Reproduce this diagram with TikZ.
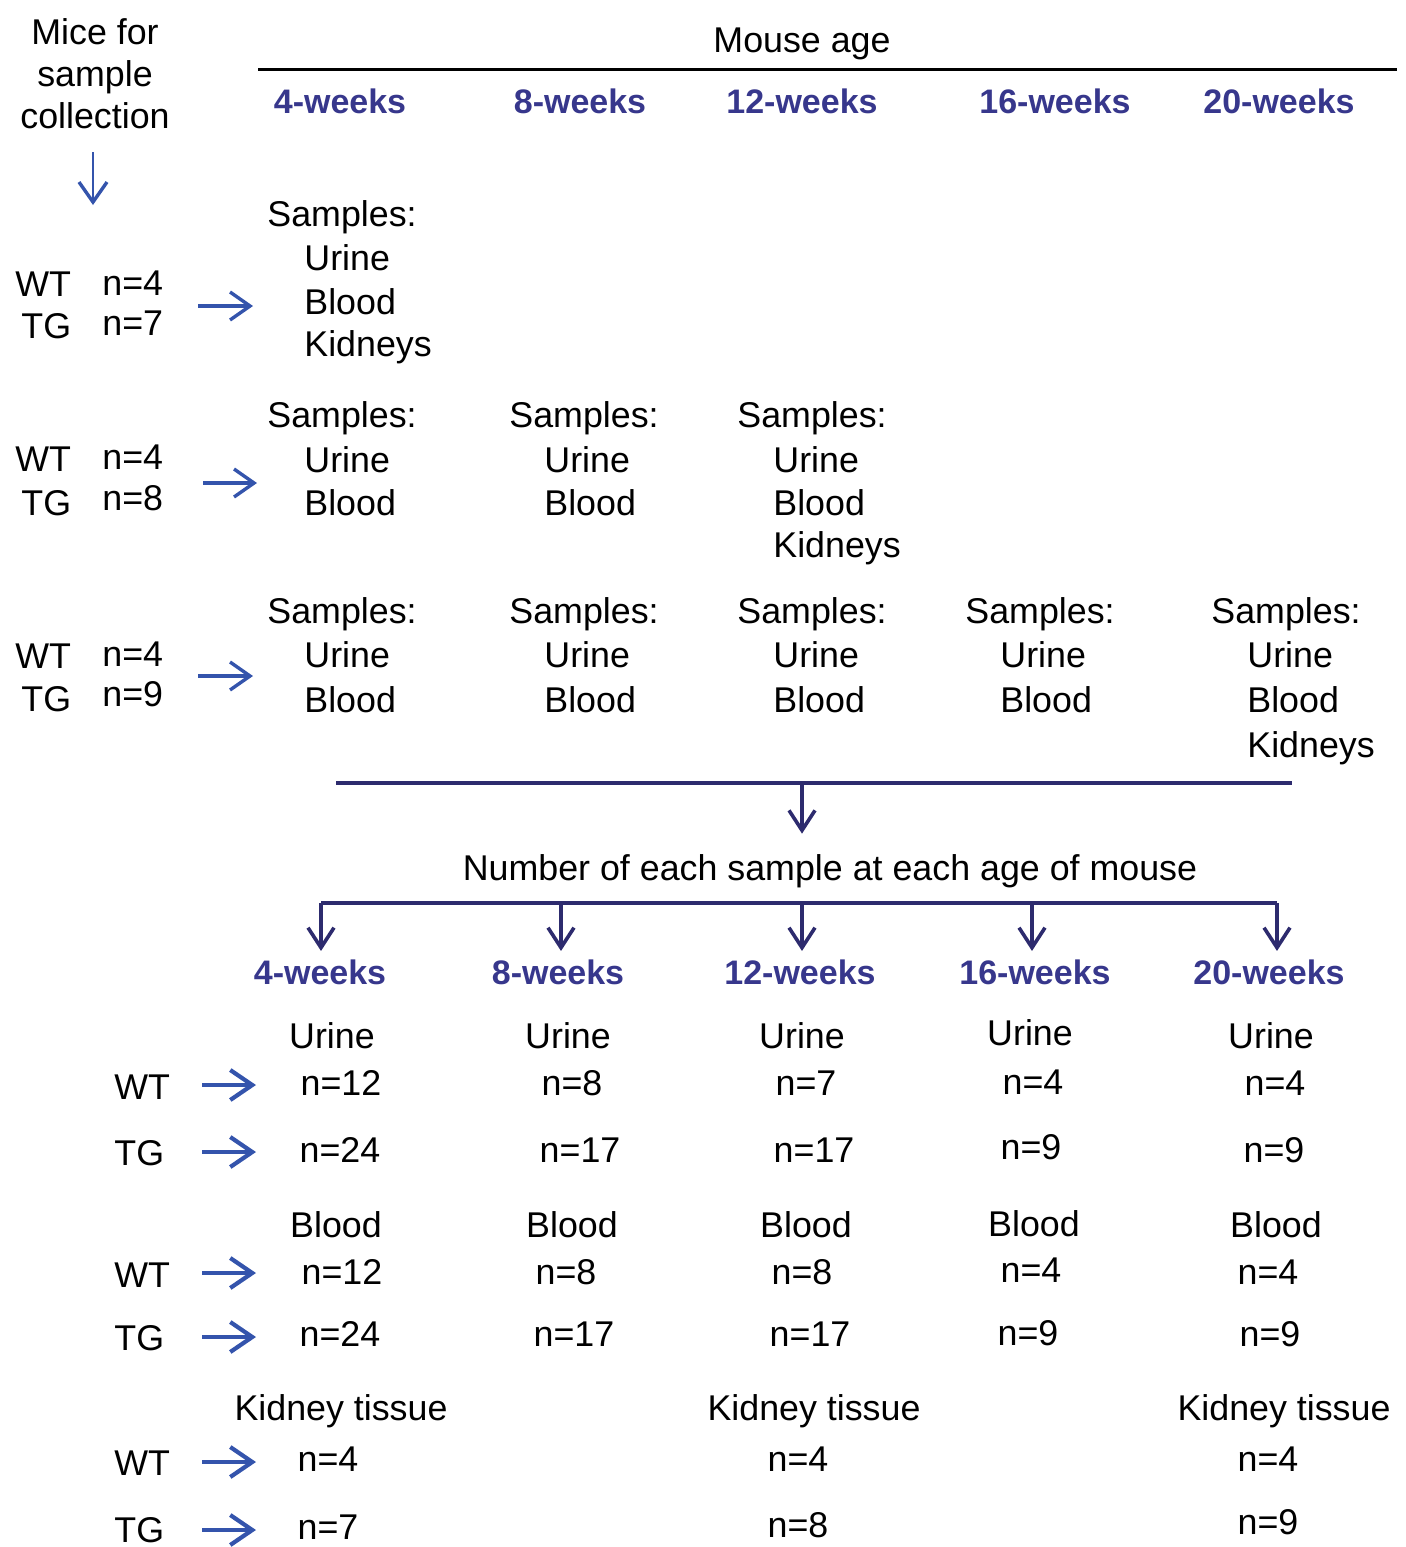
\documentclass[tikz,border=0pt]{standalone}
\usepackage{fontspec}
\setmainfont{Liberation Sans}
\usetikzlibrary{arrows.meta}
\definecolor{arrowblue}{RGB}{52,84,172}
\definecolor{navyline}{RGB}{45,43,110}
\definecolor{navytext}{RGB}{55,55,140}

\begin{document}
\begin{tikzpicture}[
    x=0.5pt, y=-0.5pt,
    every node/.style={inner sep=0pt, font=\fontsize{17.9}{21}\selectfont},
    label_txt/.style={anchor=base},
    list_txt/.style={anchor=base west},
    age_head/.style={anchor=base, font=\fontsize{17}{20}\selectfont\bfseries, text=navytext},
    blue_arrow/.style={draw=arrowblue, line width=1.7pt, -{Straight Barb[length=10pt, width=14pt, line width=1.7pt]}},
    count_arrow/.style={blue_arrow, line width=2.1pt, -{Straight Barb[length=11pt, width=15pt, line width=2.1pt]}},
    navy_arrow/.style={draw=navyline, line width=1.8pt, -{Straight Barb[length=10pt, width=13pt, line width=1.8pt]}}
]
\useasboundingbox (0,0) rectangle (1406,1547);

% title and age axis
\node (mice_title) [align=center] at (95,74) {Mice for\\sample\\collection};
\coordinate (mice_arrow_top) at (93,152);
\coordinate (mice_arrow_end) at (93,205);
\draw[blue_arrow, line width=1.4pt] (mice_arrow_top) -- (mice_arrow_end);
\node (mouse_age) [label_txt] at (802,52) {Mouse age};
\coordinate (age_line_left) at (258,69);
\coordinate (age_line_right) at (1397,69);
\draw[line width=1.5pt] (age_line_left) -- (age_line_right);
\node (top_4w) [age_head] at (340,113) {4-weeks};
\node (top_8w) [age_head] at (580,113) {8-weeks};
\node (top_12w) [age_head] at (802,113) {12-weeks};
\node (top_16w) [age_head] at (1055,113) {16-weeks};
\node (top_20w) [age_head] at (1279,113) {20-weeks};

% first group
\node (wt_row_one) [list_txt] at (15,296) {WT};
\node (wt_n_row_one) [list_txt] at (102,295) {n=4};
\node (tg_row_one) [list_txt] at (21,338) {TG};
\node (tg_n_row_one) [list_txt] at (102,335) {n=7};
\coordinate (arrow_start_row_one) at (198,306);
\coordinate (arrow_end_row_one) at (253,306);
\draw[blue_arrow] (arrow_start_row_one) -- (arrow_end_row_one);
\node (samples_4w_row_one) [list_txt] at (267,226) {Samples:};
\node (urine_4w_row_one) [list_txt] at (304,270) {Urine};
\node (blood_4w_row_one) [list_txt] at (304,314) {Blood};
\node (kidneys_4w_row_one) [list_txt] at (304,356) {Kidneys};

% second group
\node (wt_row_two) [list_txt] at (15,471) {WT};
\node (wt_n_row_two) [list_txt] at (102,469) {n=4};
\node (tg_row_two) [list_txt] at (21,515) {TG};
\node (tg_n_row_two) [list_txt] at (102,510) {n=8};
\coordinate (arrow_start_row_two) at (203,483);
\coordinate (arrow_end_row_two) at (257,483);
\draw[blue_arrow] (arrow_start_row_two) -- (arrow_end_row_two);
\node (samples_4w_row_two) [list_txt] at (267,427) {Samples:};
\node (urine_4w_row_two) [list_txt] at (304,472) {Urine};
\node (blood_4w_row_two) [list_txt] at (304,515) {Blood};
\node (samples_8w_row_two) [list_txt] at (509,427) {Samples:};
\node (urine_8w_row_two) [list_txt] at (544,472) {Urine};
\node (blood_8w_row_two) [list_txt] at (544,515) {Blood};
\node (samples_12w_row_two) [list_txt] at (737,427) {Samples:};
\node (urine_12w_row_two) [list_txt] at (773,472) {Urine};
\node (blood_12w_row_two) [list_txt] at (773,515) {Blood};
\node (kidneys_12w_row_two) [list_txt] at (773,557) {Kidneys};

% third group
\node (wt_row_three) [list_txt] at (15,668) {WT};
\node (wt_n_row_three) [list_txt] at (102,666) {n=4};
\node (tg_row_three) [list_txt] at (21,711) {TG};
\node (tg_n_row_three) [list_txt] at (102,706) {n=9};
\coordinate (arrow_start_row_three) at (198,676);
\coordinate (arrow_end_row_three) at (253,676);
\draw[blue_arrow] (arrow_start_row_three) -- (arrow_end_row_three);
\node (samples_4w_row_three) [list_txt] at (267,623) {Samples:};
\node (urine_4w_row_three) [list_txt] at (304,667) {Urine};
\node (blood_4w_row_three) [list_txt] at (304,712) {Blood};
\node (samples_8w_row_three) [list_txt] at (509,623) {Samples:};
\node (urine_8w_row_three) [list_txt] at (544,667) {Urine};
\node (blood_8w_row_three) [list_txt] at (544,712) {Blood};
\node (samples_12w_row_three) [list_txt] at (737,623) {Samples:};
\node (urine_12w_row_three) [list_txt] at (773,667) {Urine};
\node (blood_12w_row_three) [list_txt] at (773,712) {Blood};
\node (samples_16w_row_three) [list_txt] at (965,623) {Samples:};
\node (urine_16w_row_three) [list_txt] at (1000,667) {Urine};
\node (blood_16w_row_three) [list_txt] at (1000,712) {Blood};
\node (samples_20w_row_three) [list_txt] at (1211,623) {Samples:};
\node (urine_20w_row_three) [list_txt] at (1247,667) {Urine};
\node (blood_20w_row_three) [list_txt] at (1247,712) {Blood};
\node (kidneys_20w_row_three) [list_txt] at (1247,757) {Kidneys};

% merge into counts
\coordinate (merge_left) at (336,783);
\coordinate (merge_mid) at (802,783);
\coordinate (merge_right) at (1292,783);
\draw[draw=navyline, line width=1.8pt] (merge_left) -- (merge_right);
\node (count_title) [label_txt] at (830,880) {Number of each sample at each age of mouse};
\draw[navy_arrow] (merge_mid) -- (merge_mid |- count_title.north) [shorten >=10pt];
\coordinate (branch_4w) at (321,903);
\coordinate (branch_8w) at (561,903);
\coordinate (branch_12w) at (802,903);
\coordinate (branch_16w) at (1032,903);
\coordinate (branch_20w) at (1277,903);
\draw[draw=navyline, line width=1.8pt] (branch_4w) -- (branch_20w);
\node (low_4w) [age_head] at (320,984) {4-weeks};
\node (low_8w) [age_head] at (558,984) {8-weeks};
\node (low_12w) [age_head] at (800,984) {12-weeks};
\node (low_16w) [age_head] at (1035,984) {16-weeks};
\node (low_20w) [age_head] at (1269,984) {20-weeks};
\draw[navy_arrow, shorten >=4pt] (branch_4w) -- (branch_4w |- low_4w.north);
\draw[navy_arrow, shorten >=4pt] (branch_8w) -- (branch_8w |- low_8w.north);
\draw[navy_arrow, shorten >=4pt] (branch_12w) -- (branch_12w |- low_12w.north);
\draw[navy_arrow, shorten >=4pt] (branch_16w) -- (branch_16w |- low_16w.north);
\draw[navy_arrow, shorten >=4pt] (branch_20w) -- (branch_20w |- low_20w.north);

% urine counts
\node (wt_urine) [list_txt] at (114,1099) {WT};
\node (tg_urine) [list_txt] at (114,1165) {TG};
\coordinate (arrow_start_wt_urine) at (202,1085);
\coordinate (arrow_end_wt_urine) at (256,1085);
\coordinate (arrow_start_tg_urine) at (202,1152);
\coordinate (arrow_end_tg_urine) at (256,1152);
\draw[count_arrow] (arrow_start_wt_urine) -- (arrow_end_wt_urine);
\draw[count_arrow] (arrow_start_tg_urine) -- (arrow_end_tg_urine);
\node (urine_4w) [label_txt] at (332,1048) {Urine};
\node (urine_8w) [label_txt] at (568,1048) {Urine};
\node (urine_12w) [label_txt] at (802,1048) {Urine};
\node (urine_16w) [label_txt] at (1030,1045) {Urine};
\node (urine_20w) [label_txt] at (1271,1048) {Urine};
\node (wt_urine_4w) [label_txt] at (341,1095) {n=12};
\node (wt_urine_8w) [label_txt] at (572,1095) {n=8};
\node (wt_urine_12w) [label_txt] at (806,1095) {n=7};
\node (wt_urine_16w) [label_txt] at (1033,1094) {n=4};
\node (wt_urine_20w) [label_txt] at (1275,1095) {n=4};
\node (tg_urine_4w) [label_txt] at (340,1162) {n=24};
\node (tg_urine_8w) [label_txt] at (580,1162) {n=17};
\node (tg_urine_12w) [label_txt] at (814,1162) {n=17};
\node (tg_urine_16w) [label_txt] at (1031,1159) {n=9};
\node (tg_urine_20w) [label_txt] at (1274,1162) {n=9};

% blood counts
\node (wt_blood) [list_txt] at (114,1287) {WT};
\node (tg_blood) [list_txt] at (114,1350) {TG};
\coordinate (arrow_start_wt_blood) at (202,1273);
\coordinate (arrow_end_wt_blood) at (256,1273);
\coordinate (arrow_start_tg_blood) at (202,1337);
\coordinate (arrow_end_tg_blood) at (256,1337);
\draw[count_arrow] (arrow_start_wt_blood) -- (arrow_end_wt_blood);
\draw[count_arrow] (arrow_start_tg_blood) -- (arrow_end_tg_blood);
\node (blood_4w) [label_txt] at (336,1237) {Blood};
\node (blood_8w) [label_txt] at (572,1237) {Blood};
\node (blood_12w) [label_txt] at (806,1237) {Blood};
\node (blood_16w) [label_txt] at (1034,1236) {Blood};
\node (blood_20w) [label_txt] at (1276,1237) {Blood};
\node (wt_blood_4w) [label_txt] at (342,1284) {n=12};
\node (wt_blood_8w) [label_txt] at (566,1284) {n=8};
\node (wt_blood_12w) [label_txt] at (802,1284) {n=8};
\node (wt_blood_16w) [label_txt] at (1031,1282) {n=4};
\node (wt_blood_20w) [label_txt] at (1268,1284) {n=4};
\node (tg_blood_4w) [label_txt] at (340,1346) {n=24};
\node (tg_blood_8w) [label_txt] at (574,1346) {n=17};
\node (tg_blood_12w) [label_txt] at (810,1346) {n=17};
\node (tg_blood_16w) [label_txt] at (1028,1345) {n=9};
\node (tg_blood_20w) [label_txt] at (1270,1346) {n=9};

% kidney counts
\node (wt_kidney) [list_txt] at (114,1475) {WT};
\node (tg_kidney) [list_txt] at (114,1542) {TG};
\coordinate (arrow_start_wt_kidney) at (202,1462);
\coordinate (arrow_end_wt_kidney) at (256,1462);
\coordinate (arrow_start_tg_kidney) at (202,1530);
\coordinate (arrow_end_tg_kidney) at (256,1530);
\draw[count_arrow] (arrow_start_wt_kidney) -- (arrow_end_wt_kidney);
\draw[count_arrow] (arrow_start_tg_kidney) -- (arrow_end_tg_kidney);
\node (kidney_4w) [label_txt] at (341,1420) {Kidney tissue};
\node (kidney_12w) [label_txt] at (814,1420) {Kidney tissue};
\node (kidney_20w) [label_txt] at (1284,1420) {Kidney tissue};
\node (wt_kidney_4w) [label_txt] at (328,1471) {n=4};
\node (wt_kidney_12w) [label_txt] at (798,1471) {n=4};
\node (wt_kidney_20w) [label_txt] at (1268,1471) {n=4};
\node (tg_kidney_4w) [label_txt] at (328,1539) {n=7};
\node (tg_kidney_12w) [label_txt] at (798,1537) {n=8};
\node (tg_kidney_20w) [label_txt] at (1268,1534) {n=9};
\end{tikzpicture}
\end{document}
